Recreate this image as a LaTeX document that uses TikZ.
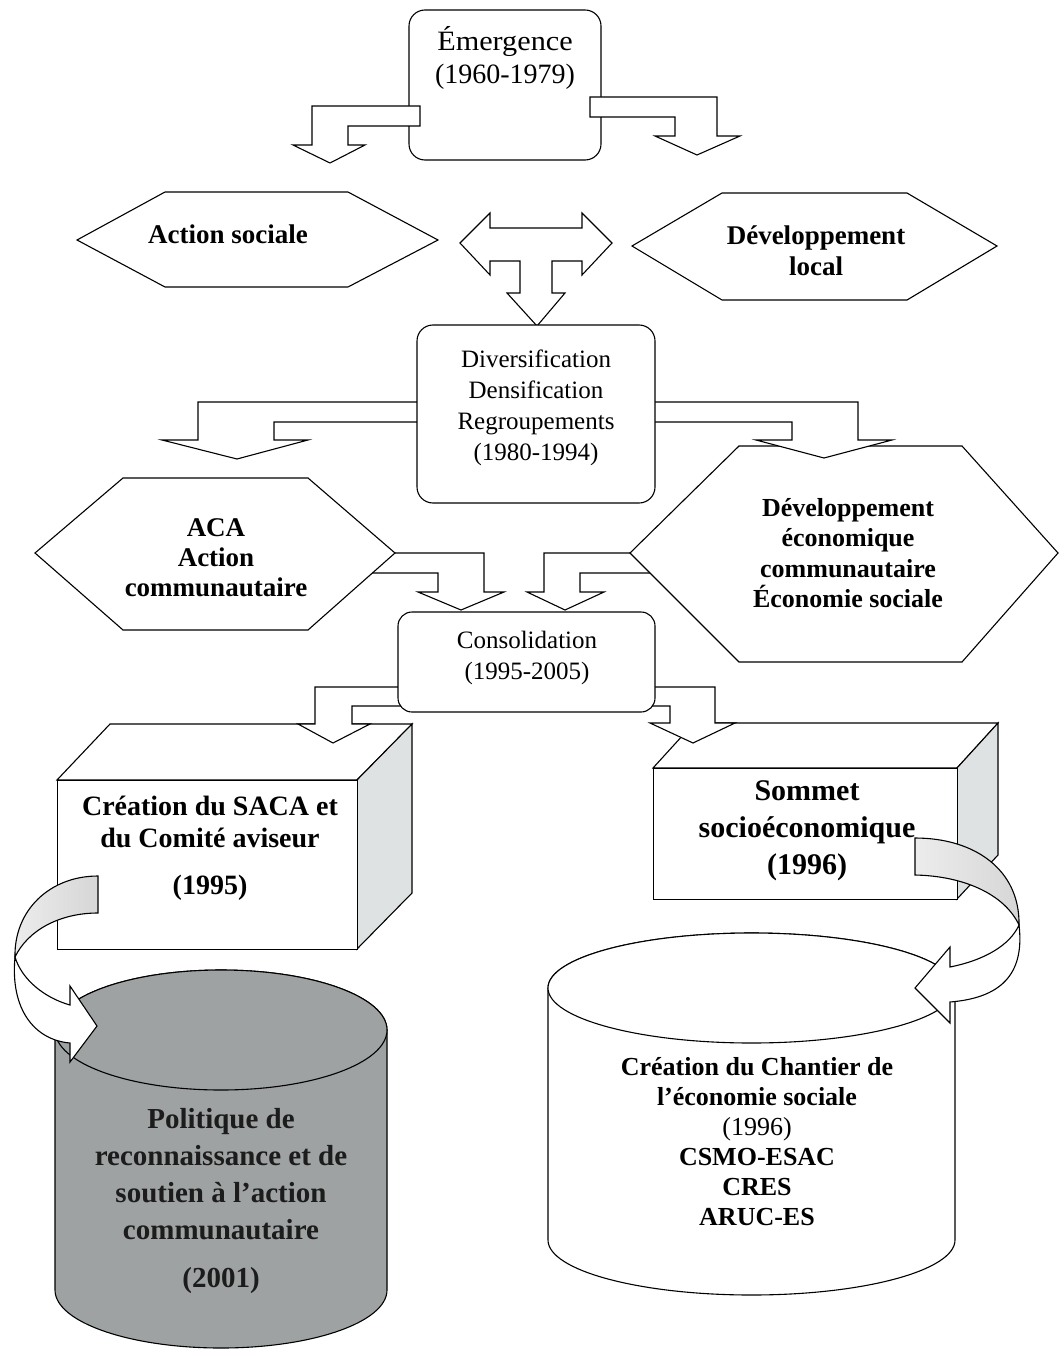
\documentclass[tikz,border=0pt]{standalone}
\usepackage{fontspec}
\setmainfont{Liberation Serif}
\definecolor{sidegrey}{RGB}{222,226,226}
\definecolor{bandgrey}{RGB}{214,214,214}
\definecolor{drumgrey}{RGB}{158,162,162}
\definecolor{drumink}{RGB}{28,28,28}
\newcommand\fsz[2]{\fontsize{#1}{#2}\selectfont}
\begin{document}
\begin{tikzpicture}[x=1pt,y=-1pt,
  outline/.style={draw=black, line width=1.1pt, line join=miter},
  blockarrow/.style={outline, fill=white},
  roundbox/.style={outline, fill=white, rounded corners=16pt},
  hexa/.style={outline, fill=white},
  face/.style={outline, fill=white},
  sideface/.style={outline, fill=sidegrey},
  band/.style={outline, left color=bandgrey!45, right color=bandgrey},
  label/.style={align=center, inner sep=0pt, text=black},
]
\useasboundingbox (0,0) rectangle (1061,1356);
\fill[white] (0,0) rectangle (1061,1356);

% ---------- Emergence ----------
\node[roundbox, minimum width=192pt, minimum height=150pt] (emer) at (505,85) {};
\node[label, font=\fsz{28}{33}] (emertxt) at (505,58)
  {\scalebox{1.08}[1]{Émergence}\\(1960-1979)};
\draw[blockarrow] (420,106) -- (312,106) -- (312,145) -- (293,145) -- (330,163)
  -- (365,145) -- (348,145) -- (348,126) -- (420,126) -- cycle;
\draw[blockarrow] (590,97) -- (717,97) -- (717,136) -- (740,136) -- (697,155)
  -- (655,136) -- (675,136) -- (675,117) -- (590,117) -- cycle;

% ---------- second row ----------
\draw[hexa] (77,240) -- (165,192) -- (348,192) -- (438,240) -- (348,287) -- (165,287) -- cycle;
\node[label, font=\fsz{27}{31}\bfseries] (actsoc) at (228,234) {Action sociale};
\draw[hexa] (632,246) -- (722,193) -- (907,193) -- (997,246) -- (907,300) -- (722,300) -- cycle;
\node[label, font=\fsz{27}{31}\bfseries] (devloc) at (816,251) {Développement\\local};

\draw[blockarrow] (460,243) -- (490,213) -- (490,228) -- (582,228) -- (582,213) -- (612,243)
  -- (582,275) -- (582,261) -- (552,261) -- (552,293) -- (565,293) -- (537,326)
  -- (507,293) -- (520,293) -- (520,261) -- (490,261) -- (490,275) -- cycle;

% ---------- third row ----------
\draw[blockarrow] (370,553) -- (484,553) -- (484,592) -- (504,592) -- (461,610)
  -- (418,592) -- (438,592) -- (438,573) -- (370,573) -- cycle;
\draw[blockarrow] (670,553) -- (544,553) -- (544,592) -- (527,592) -- (565,610)
  -- (604,592) -- (580,592) -- (580,573) -- (670,573) -- cycle;

\draw[hexa] (35,553) -- (123,478) -- (308,478) -- (395,553) -- (308,630) -- (123,630) -- cycle;
\node[label, font=\fsz{27}{30}\bfseries] (aca) at (216,558) {ACA\\Action\\communautaire};
\draw[hexa] (630,553) -- (739,446) -- (962,446) -- (1058,553) -- (962,662) -- (739,662) -- cycle;
\node[label, font=\fsz{26}{30.5}\bfseries] (dec) at (848,553) {Développement\\économique\\communautaire\\Économie sociale};

\draw[blockarrow] (430,402) -- (198,402) -- (198,440) -- (162,440) -- (237,459)
  -- (308,440) -- (274,440) -- (274,422) -- (430,422) -- cycle;
\draw[blockarrow] (640,402) -- (858,402) -- (858,440) -- (892,440) -- (824,458)
  -- (756,440) -- (792,440) -- (792,422) -- (640,422) -- cycle;

\node[roundbox, minimum width=238pt, minimum height=178pt] (divers) at (536,414) {};
\node[label, font=\fsz{25}{31}] (diverstxt) at (536,408) {Diversification\\Densification\\Regroupements\\(1980-1994)};

% ---------- 3D boxes ----------
\draw[face] (57,780) -- (110,724) -- (412,724) -- (357,780) -- cycle;
\draw[sideface] (357,780) -- (412,724) -- (412,893) -- (357,949) -- cycle;
\node[face, minimum width=300pt, minimum height=169pt, anchor=north west] (saca) at (57,780) {};
\node[label, font=\fsz{28}{32}\bfseries] (sacatxt) at (210,822) {Création du SACA et\\du Comité aviseur};
\node[label, font=\fsz{28}{32}\bfseries] (sacayear) at (210,888) {(1995)};

\draw[face] (653,768) -- (694,723) -- (998,723) -- (957,768) -- cycle;
\draw[sideface] (957,768) -- (998,723) -- (998,855) -- (957,899) -- cycle;
\node[face, minimum width=304pt, minimum height=131pt, anchor=north west] (sommet) at (653,768) {};
\node[label, font=\fsz{30}{37}\bfseries] (sommettxt) at (807,831) {Sommet\\socioéconomique\\(1996)};

% ---------- consolidation ----------
\draw[blockarrow] (410,687) -- (315,687) -- (315,724) -- (298,724) -- (333,743)
  -- (370,724) -- (352,724) -- (352,706) -- (410,706) -- cycle;
\draw[blockarrow] (645,687) -- (715,687) -- (715,723) -- (735,723) -- (693,743)
  -- (650,723) -- (670,723) -- (670,706) -- (645,706) -- cycle;
\node[roundbox, rounded corners=14pt, minimum width=257pt, minimum height=100pt] (consol) at (526.5,662) {};
\node[label, font=\fsz{25}{31}] (consoltxt) at (527,658) {Consolidation\\(1995-2005)};

% ---------- cylinders ----------
\path[outline, fill=drumgrey] (55,1030) -- (55,1290) arc[start angle=180, end angle=0, x radius=166, y radius=58]
  -- (387,1030) arc[start angle=0, end angle=-180, x radius=166, y radius=60] -- cycle;
\draw[outline, fill=drumgrey] (221,1030) ellipse[x radius=166, y radius=60];
\node[label, text=drumink, font=\fsz{29}{37}\bfseries] (politique) at (221,1174)
  {Politique de\\reconnaissance et de\\soutien à l’action\\communautaire};
\node[label, text=drumink, font=\fsz{29}{37}\bfseries] (politiqueyear) at (221,1281) {(2001)};

\path[outline, fill=white] (548,988) -- (548,1240) arc[start angle=180, end angle=0, x radius=203.5, y radius=55]
  -- (955,988) arc[start angle=0, end angle=-180, x radius=203.5, y radius=55] -- cycle;
\draw[outline, fill=white] (751.5,988) ellipse[x radius=203.5, y radius=55];
\node[label, font=\fsz{26}{30}\bfseries] (chantier) at (757,1142)
  {Création du Chantier de\\l’économie sociale\\{\mdseries (1996)}\\CSMO-ESAC\\CRES\\ARUC-ES};

% ---------- curved arrows ----------
\draw[band] (98,876) .. controls (50,876) and (14,910) .. (15,957)
  .. controls (28,930) and (60,913) .. (98,913) -- cycle;
\draw[blockarrow] (15,957) .. controls (10,1010) and (35,1040) .. (70,1043)
  -- (70,1062) -- (97,1026) -- (70,986) -- (70,1005)
  .. controls (45,998) and (22,980) .. (15,957) -- cycle;

\draw[band] (915,838) .. controls (975,838) and (1020,870) .. (1019,925)
  .. controls (1005,895) and (965,876) .. (915,875) -- cycle;
\draw[blockarrow] (1019,925) .. controls (1025,975) and (1000,998) .. (950,1002)
  -- (950,1023) -- (915,988) -- (950,947) -- (950,967)
  .. controls (985,960) and (1010,945) .. (1019,925) -- cycle;
\end{tikzpicture}
\end{document}
